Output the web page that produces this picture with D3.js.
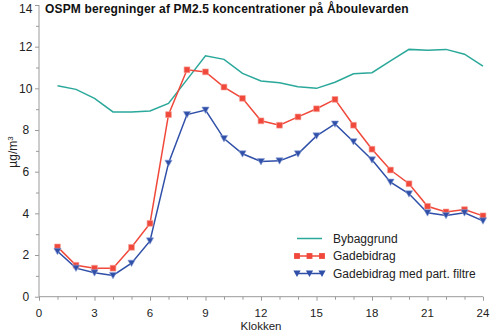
<!DOCTYPE html>
<html><head><meta charset="utf-8">
<script src="https://cdn.jsdelivr.net/npm/d3@7"></script>
<style>body{margin:0;background:#fff}svg{display:block}text{font-family:"Liberation Sans",Arial,sans-serif}</style>
</head><body><svg id="c" width="490" height="332"></svg>
<script>
const hours = [1,2,3,4,5,6,7,8,9,10,11,12,13,14,15,16,17,18,19,20,21,22,23,24];
const bybaggrund = [10.12,9.95,9.52,8.87,8.87,8.91,9.28,10.42,11.56,11.39,10.72,10.35,10.27,10.08,10.0,10.29,10.7,10.75,11.32,11.87,11.83,11.87,11.64,11.07];
const gadebidrag = [2.39,1.51,1.37,1.37,2.37,3.52,8.74,10.89,10.79,10.06,9.52,8.44,8.23,8.63,9.02,9.47,8.23,7.08,6.08,5.42,4.34,4.07,4.18,3.88];
const gadeFiltre = [2.18,1.37,1.15,1.02,1.61,2.68,6.41,8.74,8.96,7.59,6.86,6.49,6.52,6.86,7.72,8.29,7.44,6.57,5.5,4.94,4.03,3.9,4.03,3.64];
const xTicks = [0,3,6,9,12,15,18,21,24];
const yTicks = [0,2,4,6,8,10,12,14];
const seriesNames = ["Bybaggrund","Gadebidrag","Gadebidrag med part. filtre"];
const title = "OSPM beregninger af PM2.5 koncentrationer på Åboulevarden";

const svg = d3.select("#c");
const x = d3.scaleLinear().domain([0,24]).range([39,483]);
const y = d3.scaleLinear().domain([0,14]).range([296.7,5]);
const axisCol = "#9a9a9a";
const teal = "#2aa89a", red = "#f0483a", blue = "#2f4fa8";

// Y axis
const yAxis = svg.append("g").attr("transform",`translate(${x(0)},0)`);
yAxis.append("line").attr("y1",y(0)).attr("y2",y(14)).attr("stroke",axisCol);
yAxis.selectAll(".mt").data(d3.range(0,15,1)).join("line")
  .attr("x1",0).attr("x2",d=>d%2===0?-4:-3).attr("y1",d=>y(d)+0.5).attr("y2",d=>y(d)+0.5).attr("stroke",axisCol);
svg.append("g").selectAll("text").data(yTicks).join("text")
  .attr("x",25.8).attr("y",d=>Math.max(y(d),8.2)).attr("dy","0.36em").attr("text-anchor","middle")
  .attr("font-size",12).attr("fill","#222").text(d=>d);

// X axis
const xAxis = svg.append("g").attr("transform",`translate(0,${y(0)})`);
xAxis.append("line").attr("x1",x(0)).attr("x2",x(24)).attr("stroke",axisCol);
xAxis.selectAll(".mt").data(d3.range(0,25,1)).join("line")
  .attr("y1",0).attr("y2",d=>d%3===0?4:3).attr("x1",d=>x(d)+0.5).attr("x2",d=>x(d)+0.5).attr("stroke",axisCol);
xAxis.selectAll("text").data(xTicks).join("text")
  .attr("x",d=>x(d)).attr("y",20.3).attr("text-anchor","middle")
  .attr("font-size",11.5).attr("fill","#222").text(d=>d);

svg.append("text").attr("x",(x(0)+x(24))/2).attr("y",330).attr("text-anchor","middle")
  .attr("font-size",11.5).attr("fill","#222").text("Klokken");
svg.append("text").attr("transform",`translate(17,152) rotate(-90)`).attr("text-anchor","middle")
  .attr("font-size",12).attr("fill","#222").html('µg/m<tspan font-size="8" dy="-4">3</tspan>');

svg.append("text").attr("x",45).attr("y",13).attr("font-size",12).attr("font-weight","bold")
  .attr("letter-spacing",0.16).attr("fill","#111").text(title);

const line = d3.line().x((d,i)=>x(hours[i])).y(d=>y(d));
svg.append("path").datum(bybaggrund).attr("d",line).attr("fill","none").attr("stroke",teal).attr("stroke-width",1.5);
svg.append("path").datum(gadebidrag).attr("d",line).attr("fill","none").attr("stroke",red).attr("stroke-width",1.5);
svg.append("path").datum(gadeFiltre).attr("d",line).attr("fill","none").attr("stroke",blue).attr("stroke-width",1.5);

const sq = d3.symbol().type(d3.symbolSquare).size(34);
const tri = "M-3.6,-3 L3.6,-3 L0,3.4 Z";
svg.append("g").selectAll("path").data(gadebidrag).join("path")
  .attr("d",sq).attr("transform",(d,i)=>`translate(${x(hours[i])},${y(d)})`).attr("fill",red).attr("stroke","#f7a39a").attr("stroke-width",0.6);
svg.append("g").selectAll("path").data(gadeFiltre).join("path")
  .attr("d",tri).attr("transform",(d,i)=>`translate(${x(hours[i])},${y(d)})`).attr("fill",blue).attr("stroke","#8fa3d6").attr("stroke-width",0.6);

// Legend
const lg = svg.append("g");
const rows = [238.5,256,273.5];
const cols = [teal,red,blue];
rows.forEach((ry,i)=>{
  lg.append("line").attr("x1",297).attr("x2",322).attr("y1",ry).attr("y2",ry).attr("stroke",cols[i]).attr("stroke-width",1.5);
  if(i>0){
    [297,309.5,322].forEach(px=>{
      lg.append("path").attr("d",i===1?sq:tri).attr("transform",`translate(${px},${ry})`).attr("fill",cols[i]);
    });
  }
  lg.append("text").attr("x",333).attr("y",ry).attr("dy","0.36em").attr("font-size",12).attr("fill","#222").text(seriesNames[i]);
});
</script></body></html>
